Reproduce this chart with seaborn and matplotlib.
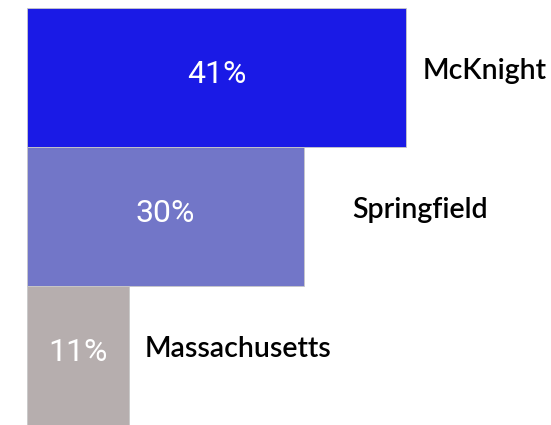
import matplotlib
matplotlib.use("Agg")
import matplotlib.pyplot as plt
import seaborn as sns
import pandas as pd

# data
places = ["McKnight", "Springfield", "Massachusetts"]
shares = [41, 30, 11]
pct_labels = ["41%", "30%", "11%"]

bar_colors = ["#1a1ae6", "#7276c8", "#b6aeae"]
label_gap = [1.8, 5.2, 1.7]  # gap between bar end and name (data units)

df = pd.DataFrame({"place": places, "share": shares})

sns.set_theme(style="white")
plt.rcParams["font.family"] = ["Lato", "DejaVu Sans"]

fig = plt.figure(figsize=(5.51, 4.25), dpi=100)
ax = fig.add_axes([27 / 551, 0, 1 - 27 / 551, 1])

sns.barplot(data=df, x="share", y="place", hue="place", palette=bar_colors,
            saturation=1, width=1.0, legend=False, ax=ax,
            edgecolor="#c8c8c8", linewidth=0.6)

ax.set_xlim(0, (551 - 27) / (379 / 41))
ax.set_ylim(2.5, -0.5 - 8 / 139)
ax.axis("off")

for i, (v, txt, name) in enumerate(zip(shares, pct_labels, places)):
    ax.text(v / 2, i - 0.02, txt, ha="center", va="center", color="white",
            fontsize=23, family=["Roboto", "DejaVu Sans"])
    ax.text(v + label_gap[i], i - 0.05, name, ha="left", va="center",
            color="black", fontsize=20.5, fontweight="semibold")

fig.savefig("out.png", dpi=100)
